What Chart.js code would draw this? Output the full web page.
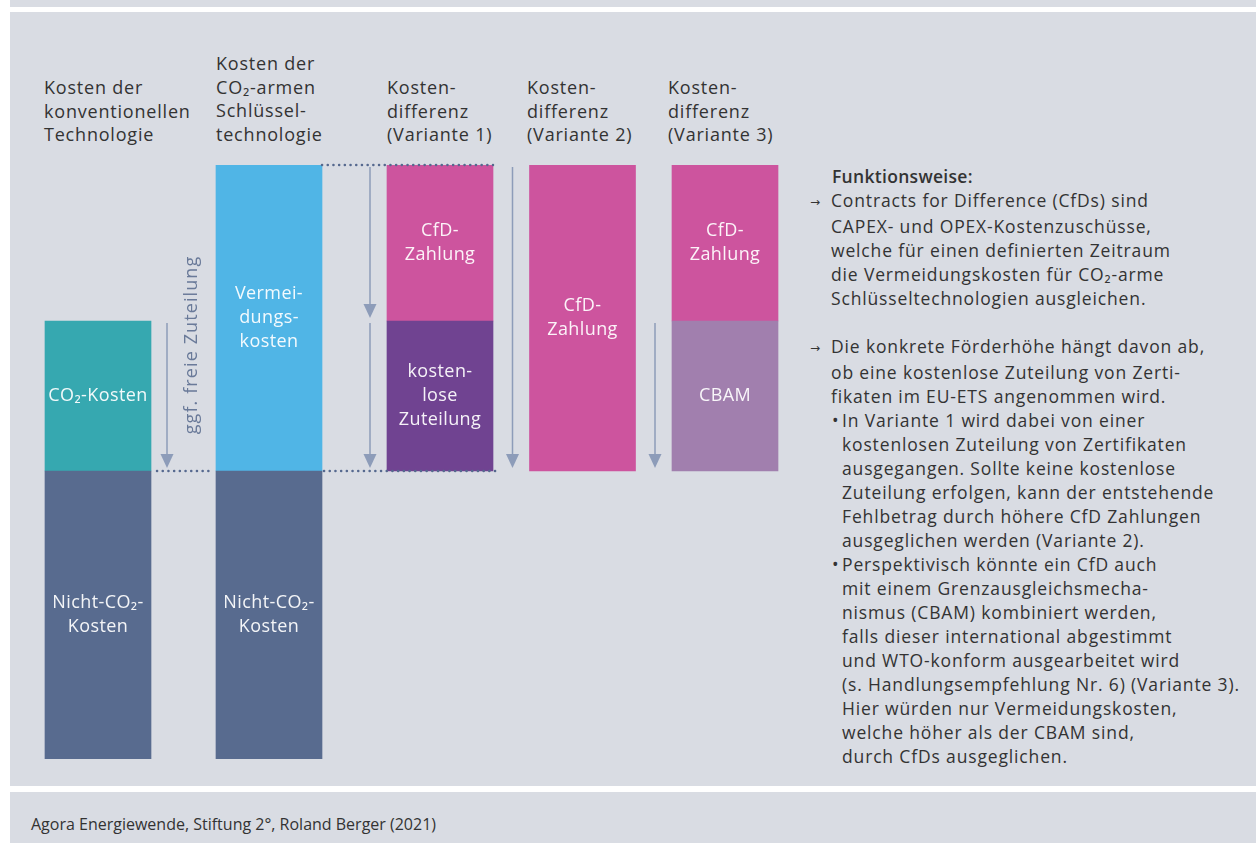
<!DOCTYPE html>
<html>
<head>
<meta charset="utf-8">
<script src="https://cdn.jsdelivr.net/npm/chart.js"></script>
<style>
body{margin:0;width:1256px;height:843px;position:relative;overflow:hidden;background:#fff;font-family:"Open Sans",sans-serif;color:#333}
.panel{position:absolute;left:10px;right:0;background:#d9dce3}
.head{position:absolute;font-size:18px;line-height:23.5px;white-space:nowrap;letter-spacing:0.8px}
#notes{position:absolute;left:810px;top:164px;font-size:17.5px;line-height:24px;white-space:nowrap;letter-spacing:0.85px}
.arr{padding-left:21px;text-indent:-21px}
.arr span{display:inline-block;width:21px;text-indent:0;font-family:"DejaVu Sans",sans-serif;font-size:12px;letter-spacing:0;vertical-align:1px}
.bul{padding-left:32px;text-indent:-10px}
.bul span{display:inline-block;width:10px;text-indent:0;letter-spacing:0}
#src{position:absolute;left:31px;top:813px;font-size:16px}
canvas{position:absolute;left:0;top:0}
</style>
</head>
<body>
<div class="panel" style="top:0;height:7px"></div>
<div class="panel" style="top:12px;height:774px"></div>
<div class="panel" style="top:792px;height:51px"></div>

<div class="head" style="left:44px;top:76px">Kosten der<br>konventionellen<br>Technologie</div>
<div class="head" style="left:216px;top:52px">Kosten der<br>CO₂-armen<br>Schlüssel-<br>technologie</div>
<div class="head" style="left:387px;top:76px">Kosten-<br>differenz<br>(Variante 1)</div>
<div class="head" style="left:527px;top:76px">Kosten-<br>differenz<br>(Variante 2)</div>
<div class="head" style="left:668px;top:76px">Kosten-<br>differenz<br>(Variante 3)</div>

<div id="notes">
<div style="padding-left:22px;font-weight:600;letter-spacing:0.3px">Funktionsweise:</div>
<div class="arr"><span>→</span>Contracts for Difference (CfDs) sind<br>CAPEX- und OPEX-Kostenzuschüsse,<br>welche für einen definierten Zeitraum<br>die Vermeidungskosten für CO₂-arme<br>Schlüsseltechnologien ausgleichen.</div>
<div style="height:24px"></div>
<div class="arr"><span>→</span>Die konkrete Förderhöhe hängt davon ab,<br>ob eine kostenlose Zuteilung von Zerti-<br>fikaten im EU-ETS angenommen wird.</div>
<div class="bul"><span>•</span>In Variante 1 wird dabei von einer<br>kostenlosen Zuteilung von Zertifikaten<br>ausgegangen. Sollte keine kostenlose<br>Zuteilung erfolgen, kann der entstehende<br>Fehlbetrag durch höhere CfD Zahlungen<br>ausgeglichen werden (Variante 2).</div>
<div class="bul"><span>•</span>Perspektivisch könnte ein CfD auch<br>mit einem Grenzausgleichsmecha-<br>nismus (CBAM) kombiniert werden,<br>falls dieser international abgestimmt<br>und WTO-konform ausgearbeitet wird<br>(s. Handlungsempfehlung Nr. 6) (Variante 3).<br>Hier würden nur Vermeidungskosten,<br>welche höher als der CBAM sind,<br>durch CfDs ausgeglichen.</div>
</div>

<div id="src">Agora Energiewende, Stiftung 2°, Roland Berger (2021)</div>

<canvas id="chart" width="1256" height="843"></canvas>

<script>
// bar slots (position on x) and where each bar starts
const slots = [0, 6, 12, 17, 22];
const barBase = [0, 0, 48, 48, 48];

// segment values per bar (null = not in this bar), bottom to top
const nonCo2    = [48, 48, null, null, null];
const co2Cost   = [25, null, null, null, null];
const avoidance = [null, 51, null, null, null];
const freeAlloc = [null, null, 25, null, null];
const cbam      = [null, null, null, null, 25];
const cfd       = [null, null, 26, 51, 26];

const segments = [
  {name: 'Nicht-CO₂-Kosten', values: nonCo2, color: '#586b8f', text: ['Nicht-CO₂-', 'Kosten']},
  {name: 'CO₂-Kosten', values: co2Cost, color: '#36a8b0', text: ['CO₂-Kosten']},
  {name: 'Vermeidungskosten', values: avoidance, color: '#50b5e6', text: ['Vermei-', 'dungs-', 'kosten']},
  {name: 'kostenlose Zuteilung', values: freeAlloc, color: '#704391', text: ['kosten-', 'lose', 'Zuteilung']},
  {name: 'CBAM', values: cbam, color: '#a17fae', text: ['CBAM']},
  {name: 'CfD-Zahlung', values: cfd, color: '#cd549e', text: ['CfD-', 'Zahlung']}
];

// build floating segments
let running = barBase.slice();
let datasets = segments.map(function (s) {
  let pts = [];
  for (let i = 0; i < slots.length; i++) {
    if (s.values[i] == null) continue;
    pts.push({x: slots[i], y: [running[i], running[i] + s.values[i]]});
    running[i] += s.values[i];
  }
  return {label: s.name, data: pts, backgroundColor: s.color, borderWidth: 0, text: s.text};
});

let convTop = nonCo2[0] + co2Cost[0];
let lowTop = nonCo2[1];
let fullTop = nonCo2[1] + avoidance[1];

// arrows: bar index, which side of the bar, from level, to level
const arrows = [
  {bar: 0, side: 'right', from: convTop, to: lowTop},
  {bar: 2, side: 'left', from: fullTop, to: convTop},
  {bar: 2, side: 'left', from: convTop, to: lowTop},
  {bar: 3, side: 'left', from: fullTop, to: lowTop},
  {bar: 4, side: 'left', from: convTop, to: lowTop}
];

const half = 53;
const font = '18px "Open Sans", sans-serif';

let extras = {
  id: 'extras',
  afterDatasetsDraw: function (chart) {
    let ctx = chart.ctx;
    let xs = chart.scales.x, ys = chart.scales.y;
    ctx.save();

    // labels inside the bars
    ctx.font = font;
    ctx.letterSpacing = '0.4px';
    ctx.fillStyle = 'rgba(255,255,255,0.93)';
    ctx.textAlign = 'center';
    ctx.textBaseline = 'middle';
    chart.data.datasets.forEach(function (ds, di) {
      chart.getDatasetMeta(di).data.forEach(function (el) {
        let cy = (el.y + el.base) / 2;
        let n = ds.text.length;
        ds.text.forEach(function (t, k) {
          ctx.fillText(t, el.x, cy + (k - (n - 1) / 2) * 24);
        });
      });
    });

    // dotted guide lines
    ctx.strokeStyle = '#56698f';
    ctx.lineWidth = 2.5;
    ctx.lineCap = 'round';
    ctx.setLineDash([0.1, 5.6]);
    let yTop = ys.getPixelForValue(fullTop);
    let yLow = ys.getPixelForValue(lowTop);
    let c0 = xs.getPixelForValue(slots[0]);
    let c1 = xs.getPixelForValue(slots[1]);
    let c2 = xs.getPixelForValue(slots[2]);
    ctx.beginPath();
    ctx.moveTo(c1 + half, yTop); ctx.lineTo(c2 + half, yTop);
    ctx.moveTo(c0 + half + 6, yLow); ctx.lineTo(c1 - half - 3, yLow);
    ctx.moveTo(c1 + half + 2, yLow); ctx.lineTo(c2 + half + 3, yLow);
    ctx.stroke();
    ctx.setLineDash([]);

    // arrows
    ctx.strokeStyle = '#8d9cb9';
    ctx.fillStyle = '#8d9cb9';
    ctx.lineWidth = 1.5;
    ctx.lineCap = 'butt';
    arrows.forEach(function (a) {
      let c = xs.getPixelForValue(slots[a.bar]);
      let x = a.side === 'right' ? c + half + 16 : c - half - 17;
      let y1 = ys.getPixelForValue(a.from) + 2;
      let y2 = ys.getPixelForValue(a.to) - 3;
      ctx.beginPath();
      ctx.moveTo(x, y1); ctx.lineTo(x, y2 - 10);
      ctx.stroke();
      ctx.beginPath();
      ctx.moveTo(x - 6.5, y2 - 14); ctx.lineTo(x + 6.5, y2 - 14); ctx.lineTo(x, y2);
      ctx.closePath();
      ctx.fill();
    });

    // rotated note next to the first arrow
    ctx.save();
    ctx.translate(c0 + half + 41, ys.getPixelForValue(69));
    ctx.rotate(-Math.PI / 2);
    ctx.fillStyle = '#6a7a99';
    ctx.font = font;
    ctx.letterSpacing = '1.1px';
    ctx.textAlign = 'center';
    ctx.textBaseline = 'middle';
    ctx.fillText('ggf. freie Zuteilung', 0, 0);
    ctx.restore();

    ctx.restore();
  }
};

new Chart(document.getElementById('chart'), {
  type: 'bar',
  data: {datasets: datasets},
  options: {
    responsive: false,
    animation: false,
    devicePixelRatio: 1,
    layout: {padding: {left: 41, right: 474, top: 165, bottom: 84}},
    plugins: {legend: {display: false}, tooltip: {enabled: false}},
    datasets: {bar: {grouped: false, barThickness: 106}},
    scales: {
      x: {type: 'linear', min: -2, max: 24, offset: false, display: false},
      y: {min: 0, max: 99, display: false}
    }
  },
  plugins: [extras]
});
</script>
</body>
</html>
